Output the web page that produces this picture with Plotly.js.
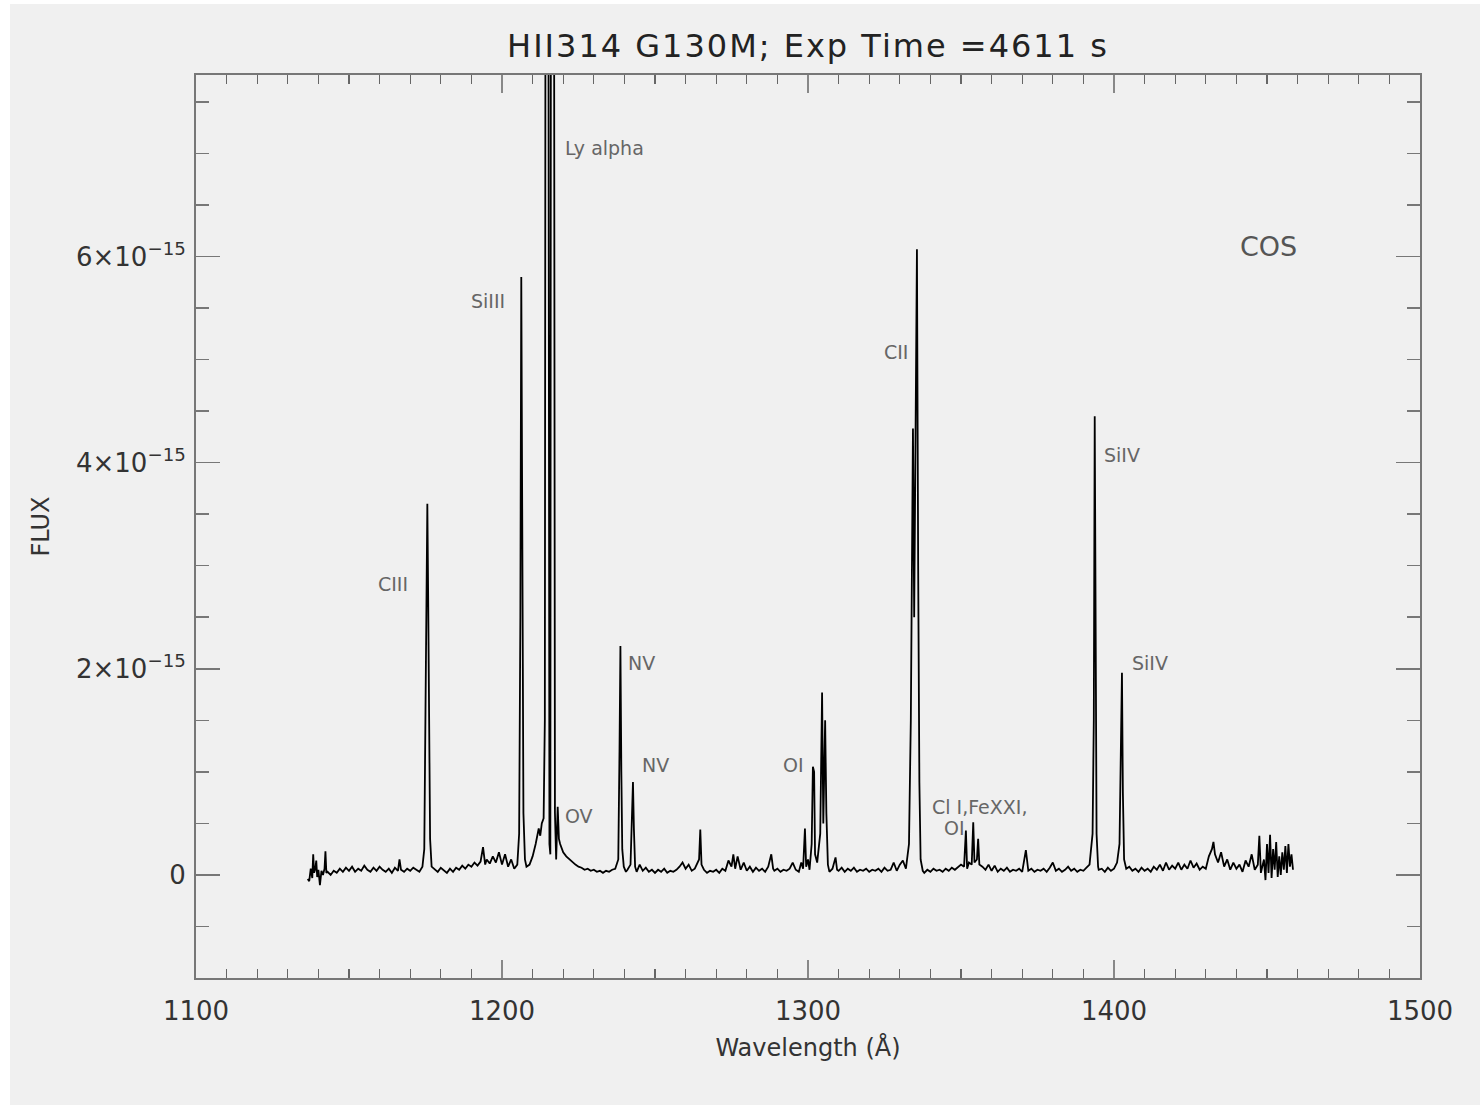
<!DOCTYPE html>
<html>
<head>
<meta charset="utf-8">
<script src="https://cdn.plot.ly/plotly-3.0.1.min.js"></script>
<style>
  html, body { margin: 0; padding: 0; background: #ffffff; }
  #chart { position: absolute; left: 10px; top: 4px; width: 1470px; height: 1101px; }
  #chart .gtitle { letter-spacing: 2px; }
</style>
</head>
<body>
<div id="chart"></div>
<script>
// Wavelength (Angstrom)
const wavelength = [
  1136.5,1137.0,1137.5,1138.0,1138.3,1138.6,1139.0,1139.3,1139.6,1140.0,1140.5,1141.0,1141.5,1142.0,1142.3,1142.6,1143.0,
  1144,1145,1146,1147,1148,1149,1150,1151,1152,1153,1154,1155,1156,1157,1158,1159,1160,1161,1162,1163,1164,1165,1166,1166.5,1167,1168,1169,1170,
  1171,1172,1173,1174,1174.6,1175.0,1175.3,1175.6,1175.9,1176.2,1176.5,1177.0,
  1178,1179,1180,1181,1182,1183,1184,1185,1186,1187,1188,1189,1190,1191,1192,1193,1193.8,1194.5,1195,1196,1197,1198,1199,1200,1201,1202,1203,1204,1205,
  1205.6,1206.0,1206.3,1206.6,1207.0,1207.5,1208,1209,1210,1211,1212,1212.5,1213,1213.6,
  1214.0,1214.3,1214.8,1215.2,1215.5,1215.8,1216.0,1216.4,1216.9,1217.3,1217.7,1218.2,1218.6,1219,1219.5,1220,1221,1222,1223,1224,1225,
  1226,1227,1228,1229,1230,1231,1232,1233,1234,1235,1236,1237,
  1238.0,1238.4,1238.7,1239.0,1239.3,1239.8,1240.5,1241,1242.0,1242.5,1242.8,1243.1,1243.5,
  1244,1245,1246,1247,1248,1249,1250,1251,1252,1253,1254,1255,1256,1257,1258,1259,1260,1261,1262,1263,
  1264.4,1264.8,1265.2,1266,1267,1268,1269,1270,1271,1272,1273,1274,1275,1275.6,1276.2,1277,1278,1279,1280,1281,1282,1283,1284,1285,1286,1287,1288,1288.6,
  1289,1290,1291,1292,1293,1294,1295,1296,1297,1297.8,1298.4,1299.0,1299.4,1300,1300.5,1301.2,1301.6,1302.0,1302.3,1303,
  1304.0,1304.6,1305.0,1305.3,1305.6,1306.0,1306.5,1307,1308,1309,1309.5,1310,1311,
  1312,1313,1314,1315,1316,1317,1318,1319,1320,1321,1322,1323,1324,1325,1326,1327,1328,1329,1330,1331,1332,
  1333.0,1333.6,1334.0,1334.3,1334.7,1335.0,1335.3,1335.6,1336.0,1336.4,1336.8,1337.5,
  1338,1339,1340,1341,1342,1343,1344,1345,1346,1347,1348,1349,1350,
  1351.0,1351.6,1352.0,1352.6,1353.5,1354.0,1354.4,1355.2,1355.6,1356.0,
  1357,1358,1359,1360,1361,1362,1363,1364,1365,1366,1367,1368,1369,1370,1371.2,1371.8,
  1372,1373,1374,1375,1376,1377,1378,1379,1380,1381,1382,1383,1384,1385,1386,1387,1388,1389,1390,1391,1392,
  1393.0,1393.4,1393.7,1394.0,1394.3,1394.8,
  1395,1396,1397,1398,1399,1400,1401,1401.8,1402.3,1402.6,1402.9,1403.3,
  1404,1405,1406,1407,1408,1409,1410,1411,1412,1413,1414,1415,1416,1417,1418,1419,1420,1421,1422,1423,1424,1425,1426,1427,1428,1429,1430,
  1431,1432,1432.5,1433,1434,1435,1436,1437,1438,1439,1440,1441,1442,1443,1444,1445,1446,1447,1447.5,1448,1449,1449.5,1450,1450.5,
  1451,1451.5,1452,1452.5,1453,1453.5,1454,1454.5,1455,1455.5,1456,1456.5,1457,1457.5,1458,1458.5
];

// Flux in units of 1e-15
const flux = [
  -0.04,-0.06,0.06,-0.03,0.20,0.02,0.06,0.14,-0.02,0.05,-0.10,0.04,0.00,0.06,0.23,0.02,0.03,
  0.00,0.04,0.02,0.06,0.03,0.07,0.04,0.08,0.03,0.06,0.04,0.09,0.05,0.03,0.07,0.04,0.08,0.05,0.03,0.06,0.02,0.07,0.04,0.15,0.05,0.03,0.06,0.04,
  0.07,0.05,0.03,0.08,0.25,1.60,2.80,3.60,2.60,1.10,0.35,0.08,
  0.05,0.03,0.07,0.04,0.02,0.06,0.03,0.07,0.05,0.09,0.06,0.10,0.08,0.12,0.09,0.13,0.27,0.10,0.15,0.11,0.18,0.12,0.22,0.10,0.20,0.08,0.15,0.06,0.10,
  0.40,2.50,5.80,3.00,0.60,0.15,0.08,0.10,0.18,0.30,0.45,0.38,0.50,0.55,
  1.50,12.0,14.0,8.00,0.30,0.20,10.0,14.0,12.0,0.60,0.15,0.66,0.35,0.30,0.25,0.22,0.18,0.15,0.12,0.10,0.08,
  0.07,0.05,0.06,0.04,0.05,0.03,0.04,0.02,0.04,0.03,0.05,0.06,
  0.15,1.20,2.22,1.00,0.25,0.08,0.03,0.05,0.10,0.60,0.90,0.45,0.08,
  0.03,0.10,0.04,0.07,0.03,0.05,0.02,0.05,0.03,0.06,0.02,0.04,0.03,0.05,0.08,0.12,0.06,0.10,0.04,0.06,
  0.15,0.44,0.10,0.05,0.02,0.04,0.03,0.05,0.02,0.06,0.04,0.14,0.08,0.20,0.06,0.18,0.05,0.12,0.04,0.08,0.03,0.07,0.04,0.06,0.03,0.08,0.20,0.06,
  0.04,0.06,0.03,0.05,0.04,0.06,0.12,0.05,0.03,0.12,0.06,0.45,0.08,0.15,0.05,0.30,1.05,1.00,0.20,0.12,
  0.40,1.77,0.50,1.00,1.50,0.60,0.10,0.03,0.06,0.17,0.05,0.04,0.07,
  0.03,0.06,0.04,0.07,0.03,0.05,0.04,0.06,0.03,0.05,0.04,0.06,0.03,0.07,0.04,0.05,0.12,0.04,0.10,0.14,0.06,
  0.30,1.50,3.60,4.33,2.50,4.00,5.60,6.07,3.00,0.90,0.15,0.04,
  0.02,0.05,0.03,0.06,0.04,0.05,0.03,0.06,0.04,0.07,0.05,0.08,0.10,
  0.08,0.43,0.06,0.12,0.10,0.51,0.12,0.15,0.35,0.10,
  0.08,0.05,0.10,0.04,0.09,0.03,0.06,0.04,0.07,0.03,0.05,0.04,0.06,0.03,0.24,0.05,
  0.04,0.06,0.03,0.05,0.04,0.06,0.03,0.07,0.12,0.04,0.06,0.03,0.05,0.08,0.04,0.06,0.03,0.05,0.04,0.07,0.10,
  0.40,1.50,4.45,2.00,0.40,0.08,
  0.05,0.06,0.03,0.07,0.04,0.06,0.12,0.30,1.20,1.96,0.80,0.15,
  0.06,0.08,0.04,0.06,0.03,0.07,0.04,0.06,0.03,0.08,0.05,0.10,0.04,0.12,0.05,0.09,0.06,0.12,0.05,0.10,0.06,0.14,0.07,0.11,0.05,0.08,0.06,
  0.18,0.25,0.32,0.20,0.12,0.22,0.08,0.15,0.05,0.12,0.06,0.10,0.03,0.14,0.08,0.20,0.05,0.10,0.38,0.02,0.15,-0.05,0.30,0.02,
  0.39,-0.03,0.25,0.05,0.32,-0.02,0.18,0.00,0.22,0.05,0.28,0.02,0.30,0.08,0.20,0.05
];

const yTickVals = [0, 2, 4, 6];
const yTickText = ['0', '2×10<sup>−15</sup>', '4×10<sup>−15</sup>', '6×10<sup>−15</sup>'];
const xTickVals = [1100, 1200, 1300, 1400, 1500];

const lineLabels = ['CIII', 'SiIII', 'Ly alpha', 'OV', 'NV', 'NV', 'OI', 'CII', 'Cl I,FeXXI,', 'OI', 'SiIV', 'SiIV'];
const labelX     = [1169.9, 1201.6, 1219.9, 1219.9, 1240.5, 1245.1, 1299.3, 1333.3, 1339.9, 1343.8, 1396.1, 1405.2];
const labelY     = [2.82, 5.57, 7.05, 0.57, 2.06, 1.07, 1.07, 5.07, 0.66, 0.46, 4.07, 2.06];
const labelAnchor= ['right','right','left','left','left','left','right','right','left','left','left','left'];

const fontFam = 'DejaVu Sans, sans-serif';

const annotations = lineLabels.map((t, i) => ({
  x: labelX[i], y: labelY[i], xref: 'x', yref: 'y', text: t, showarrow: false,
  xanchor: labelAnchor[i], yanchor: 'middle',
  font: { family: fontFam, size: 19, color: '#666666' }
}));
annotations.push({
  x: 1440.5, y: 6.1, xref: 'x', yref: 'y', text: 'COS', showarrow: false,
  xanchor: 'left', yanchor: 'middle',
  font: { family: fontFam, size: 27, color: '#555555' }
});

const trace = {
  x: wavelength, y: flux, type: 'scatter', mode: 'lines',
  line: { color: '#000000', width: 1.8 },
  hoverinfo: 'x+y'
};

const layout = {
  width: 1470, height: 1101,
  paper_bgcolor: '#f0f0f0', plot_bgcolor: '#f0f0f0',
  margin: { l: 186, r: 60, t: 71, b: 127 },
  showlegend: false,
  title: {
    text: 'HII314 G130M; Exp Time =4611 s',
    font: { family: fontFam, size: 32, color: '#222222' },
    x: 0.5, xref: 'paper', xanchor: 'center',
    y: 1, yref: 'container', yanchor: 'top', pad: { t: 31 }
  },
  xaxis: {
    range: [1100, 1500], tickmode: 'array', tickvals: xTickVals,
    ticks: 'inside', ticklen: 18, tickwidth: 1.5, tickcolor: '#888888',
    minor: { tickmode: 'linear', tick0: 1100, dtick: 10, ticks: 'inside', ticklen: 9, tickwidth: 1.2, tickcolor: '#666666' },
    showline: true, linecolor: '#777777', linewidth: 2, mirror: 'allticks',
    showgrid: false, zeroline: false,
    tickfont: { family: fontFam, size: 26, color: '#333333' },
    ticklabelstandoff: 9,
    title: { text: 'Wavelength (Å)', font: { family: fontFam, size: 24, color: '#333333' }, standoff: 14 }
  },
  yaxis: {
    range: [-1, 7.76], tickmode: 'array', tickvals: yTickVals, ticktext: yTickText,
    ticks: 'inside', ticklen: 24, tickwidth: 1.5, tickcolor: '#777777',
    minor: { tickmode: 'linear', tick0: 0, dtick: 0.5, ticks: 'inside', ticklen: 13, tickwidth: 1.5, tickcolor: '#777777' },
    showline: true, linecolor: '#777777', linewidth: 2, mirror: 'allticks',
    showgrid: false, zeroline: false,
    tickfont: { family: fontFam, size: 26, color: '#333333' },
    ticklabelstandoff: 3,
    title: { text: 'FLUX', font: { family: fontFam, size: 24, color: '#333333' }, standoff: 20 }
  },
  annotations: annotations
};

Plotly.newPlot('chart', [trace], layout, { displayModeBar: false, staticPlot: true });
</script>
</body>
</html>
